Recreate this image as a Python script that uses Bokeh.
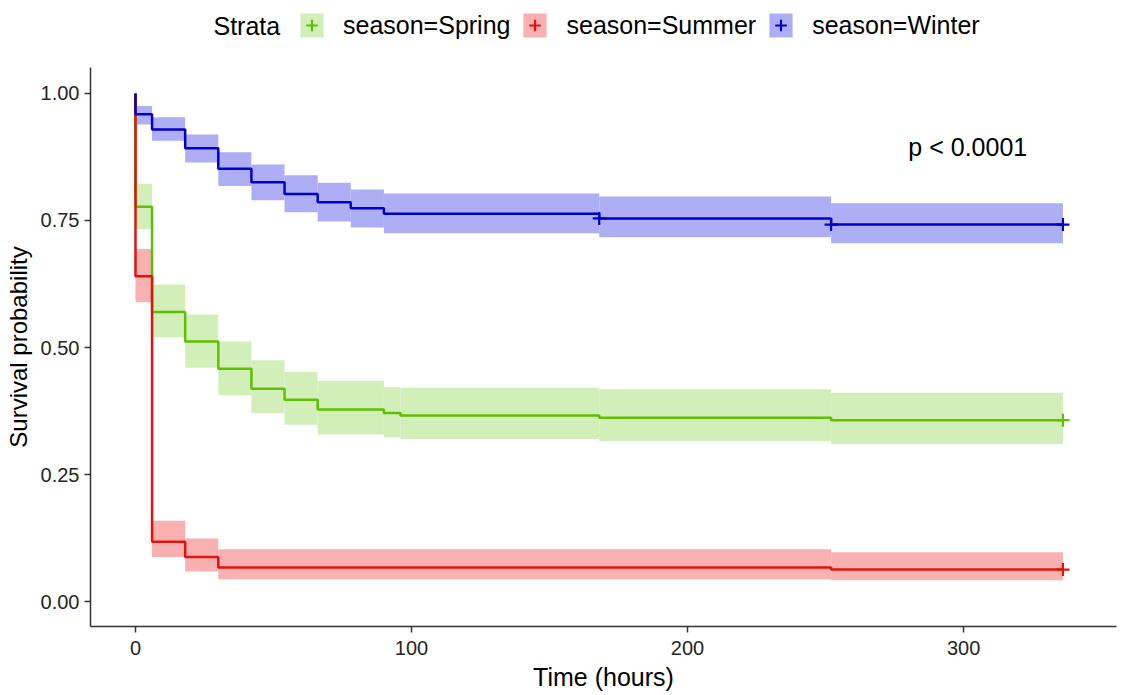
from bokeh.plotting import figure
from bokeh.models import Range1d, FixedTicker, Legend, LegendItem, Label
from bokeh.layouts import column
from bokeh.embed import file_html
from bokeh.resources import INLINE

# ---------------- data ----------------
strata = ["season=Spring", "season=Summer", "season=Winter"]
legend_title = "Strata"
end_time = 336

spring_times = [0, 6, 18, 30, 42, 54, 66, 90, 96, 168, 252]
spring_surv  = [0.777, 0.570, 0.512, 0.458, 0.419, 0.397, 0.378, 0.371, 0.366, 0.362, 0.357]
spring_upper = [0.822, 0.624, 0.565, 0.512, 0.475, 0.452, 0.434, 0.422, 0.421, 0.418, 0.411]
spring_lower = [0.733, 0.520, 0.460, 0.406, 0.371, 0.348, 0.329, 0.323, 0.320, 0.316, 0.310]
spring_censor = [336]

summer_times = [0, 6, 18, 30, 252]
summer_surv  = [0.640, 0.118, 0.088, 0.067, 0.063]
summer_upper = [0.694, 0.159, 0.124, 0.103, 0.097]
summer_lower = [0.589, 0.088, 0.059, 0.044, 0.042]
summer_censor = [336]

winter_times = [0, 6, 18, 30, 42, 54, 66, 78, 90, 168, 252]
winter_surv  = [0.959, 0.929, 0.892, 0.852, 0.825, 0.802, 0.786, 0.774, 0.763, 0.754, 0.742]
winter_upper = [0.975, 0.953, 0.919, 0.884, 0.860, 0.839, 0.824, 0.811, 0.803, 0.797, 0.784]
winter_lower = [0.939, 0.907, 0.864, 0.818, 0.790, 0.766, 0.748, 0.736, 0.725, 0.717, 0.705]
winter_censor = [168, 252, 336]

x_ticks = [0, 100, 200, 300]
y_ticks = [0.0, 0.25, 0.5, 0.75, 1.0]
y_tick_labels = ["0.00", "0.25", "0.50", "0.75", "1.00"]
x_title = "Time (hours)"
y_title = "Survival probability"
pval_text = "p < 0.0001"
pval_x, pval_y = 280, 0.894

line_colors = ["#5EC000", "#E0140C", "#0000C8"]
band_colors = ["#D2EEB9", "#F8B0B0", "#AEAEF5"]

FONT = "Liberation Sans"
W = 1120
LEG_H = 67
FRAME_L, FRAME_R = 90, 1116

# ---------------- legend strip (its own figure above the plot) ----------------
leg = figure(width=W, height=LEG_H, output_backend="svg", toolbar_location=None,
             x_range=Range1d(FRAME_L, FRAME_R), y_range=Range1d(0, LEG_H),
             x_axis_type=None, y_axis_type=None, min_border=0)
leg.outline_line_color = None
leg.xgrid.visible = False
leg.ygrid.visible = False

# legend key proxies: one point kept outside the strip's visible range
proxy = [-10000]
leg_items = []
for name, lc, bc in zip(strata, line_colors, band_colors):
    rb = leg.quad(left=proxy, right=proxy, top=proxy, bottom=proxy, fill_color=bc, line_color=None)
    rc = leg.scatter(proxy, proxy, marker="cross", size=13, line_color=lc, line_width=2.2)
    leg_items.append(LegendItem(label=name, renderers=[rb, rc]))

leg.add_layout(Label(x=213, y=LEG_H - 25, text=legend_title, text_font=FONT,
                     text_font_size="25px", text_color="black",
                     text_align="left", text_baseline="middle"))
legend = Legend(items=leg_items, orientation="horizontal", location=(297 - FRAME_L, 27),
                label_text_font=FONT, label_text_font_size="25px", label_text_color="black",
                glyph_width=29, glyph_height=30, label_height=30,
                label_standoff=17, spacing=10, padding=0, margin=0,
                border_line_color=None, background_fill_alpha=0)
leg.add_layout(legend, "center")

# ---------------- main plot ----------------
p = figure(width=W, height=626, output_backend="svg", toolbar_location=None,
           x_range=Range1d(-16.3, 355.4), y_range=Range1d(-0.049, 1.051),
           min_border_left=FRAME_L, min_border_right=W - FRAME_R, min_border_top=0,
           min_border_bottom=65)
p.outline_line_color = None
p.xgrid.visible = False
p.ygrid.visible = False
p.background_fill_color = "white"

series = [
    (spring_times, spring_surv, spring_upper, spring_lower, spring_censor),
    (summer_times, summer_surv, summer_upper, summer_lower, summer_censor),
    (winter_times, winter_surv, winter_upper, winter_lower, winter_censor),
]

for (t, s, up, lo, cen), bc in zip(series, band_colors):
    rights = t[1:] + [end_time]
    p.quad(left=t, right=rights, top=up, bottom=lo, fill_color=bc, line_color=None)

for (t, s, up, lo, cen), lc in zip(series, line_colors):
    xs = [0] + t + [end_time]
    ys = [1.0] + s + [s[-1]]
    p.step(xs, ys, mode="after", line_color=lc, line_width=2.5)

for (t, s, up, lo, cen), lc in zip(series, line_colors):
    cy = []
    for c in cen:
        val = 1.0
        for ti, si in zip(t, s):
            if ti <= c:
                val = si
        cy.append(val)
    p.scatter(cen, cy, marker="cross", size=13, line_color=lc, line_width=2.2)

for ax in (p.xaxis[0], p.yaxis[0]):
    ax.axis_line_color = "#333333"
    ax.axis_line_width = 1.5
    ax.major_tick_line_color = "#333333"
    ax.major_tick_line_width = 1.5
    ax.major_tick_out = 6
    ax.major_tick_in = 0
    ax.minor_tick_line_color = None
    ax.major_label_text_font = FONT
    ax.major_label_text_font_size = "20px"
    ax.major_label_text_color = "#262626"
    ax.axis_label_text_font = FONT
    ax.axis_label_text_font_style = "normal"
    ax.axis_label_text_color = "black"

p.xaxis.ticker = FixedTicker(ticks=x_ticks)
p.yaxis.ticker = FixedTicker(ticks=y_ticks)
p.yaxis.major_label_overrides = {v: l for v, l in zip(y_ticks, y_tick_labels)}
p.xaxis.axis_label = x_title
p.yaxis.axis_label = y_title
p.xaxis.axis_label_text_font_size = "25px"
p.yaxis.axis_label_text_font_size = "24px"
p.xaxis.major_label_standoff = 8
p.yaxis.major_label_standoff = 5
p.xaxis.axis_label_standoff = 5
p.yaxis.axis_label_standoff = 6

p.add_layout(Label(x=pval_x, y=pval_y, text=pval_text, text_font=FONT,
                   text_font_size="25px", text_color="black",
                   text_align="left", text_baseline="middle"))

layout = column(leg, p, spacing=0)
open("out.html", "w").write(file_html(layout, INLINE))
